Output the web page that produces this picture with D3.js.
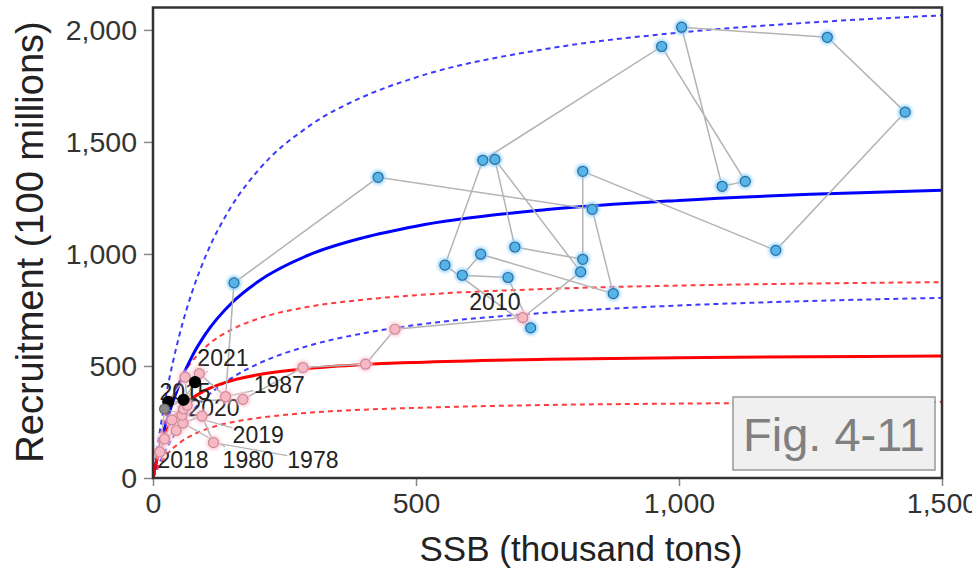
<!doctype html>
<html lang="en">
<head>
  <meta charset="utf-8">
  <title>SR plot</title>
  <style type="text/css">
    body { margin: 0; background: #fff; }
    #vis { font-family: "Liberation Sans", Arial, sans-serif; }
    .frame { fill: none; stroke: #333; stroke-width: 2.5px; }
    .tick line { stroke: #888; stroke-width: 1.5px; }
    .tick text { fill: #333; }
    .path { fill: none; stroke: #b4b4b4; stroke-width: 1.5px; }
    .leader { stroke: #b4b4b4; stroke-width: 1.2px; }
    .yr { fill: #222; font-size: 23px; }
  </style>
  <script src="https://cdn.jsdelivr.net/npm/d3@7"></script>
</head>
<body>
<div id="vis"></div>
<script type="text/javascript">
  // observed stock-recruit pairs, one per year
  var years = d3.range(1978, 2022);
  var ssb = [115, 93, 57, 44, 22, 36, 55, 58, 88, 138,
             154, 428, 835, 875, 623, 588, 675, 718, 555, 627,
             967, 1126, 1082, 1005, 1282, 1430, 1184, 817, 817, 688,
             650, 813,
             703, 460, 404, 285, 171, 29, 61, 65, 13, 22, 58, 80];
  var rec = [158, 276, 245, 212, 174, 259, 281, 308, 466, 363,
             871, 1342, 1199, 823, 999, 905, 895, 670, 950, 1418,
             1926, 1324, 1302, 2012, 1967, 1633, 1016, 1369, 976, 1031,
             1422, 920,
             716, 664, 508, 493, 351, 340, 450, 325, 116, 308, 349, 428];
  var group = ["low", "low", "low", "low", "low", "low", "low", "low", "low", "low",
               "high", "high", "high", "high", "high", "high", "high", "high", "high", "high",
               "high", "high", "high", "high", "high", "high", "high", "high", "high", "high",
               "high", "high",
               "low", "low", "low", "low", "low", "recent", "low", "low", "low", "grey", "recent", "recent"];

  // fitted curves
  var curveSSB = [0, 5, 10, 25, 50, 75, 100, 150, 200, 300, 400, 500, 750, 1000, 1250, 1500];
  var highMid = [0, 58, 111, 247, 419, 546, 643, 782, 877, 999, 1073, 1124, 1198, 1239, 1266, 1284];
  var highUp  = [0, 85, 165, 371, 636, 835, 990, 1216, 1373, 1576, 1702, 1788, 1916, 1988, 2033, 2065];
  var highLo  = [0, 29, 57, 129, 225, 299, 359, 447, 510, 593, 646, 683, 738, 770, 790, 804];
  var lowMid  = [0, 58, 106, 206, 301, 356, 392, 435, 461, 490, 506, 516, 530, 537, 541, 544];
  var lowUp   = [0, 76, 139, 283, 431, 523, 585, 663, 711, 766, 796, 816, 844, 859, 868, 874];
  var lowLo   = [0, 26, 48, 100, 156, 192, 217, 249, 268, 292, 305, 313, 326, 332, 336, 339];

  var labelYears = [2021, 2015, 1987, 2020, 2019, 2018, 1980, 1978, 2010];
  var labelSSB   = [133, 61, 240, 116, 200, 57, 181, 304, 650];
  var labelRec   = [535, 383, 415, 312, 192, 80, 80, 80, 785];

  var xTicks = [0, 500, 1000, 1500];
  var yTicks = [0, 500, 1000, 1500, 2000];

  var W = 972, H = 568;
  var x = d3.scaleLinear().domain([0, 1500]).range([153, 942]);
  var y = d3.scaleLinear().domain([0, 2100]).range([478, 7.5]);
  var fmt = d3.format(",");

  var svg = d3.select("#vis").append("svg")
    .attr("width", W).attr("height", H);

  var defs = svg.append("defs");
  defs.append("clipPath").attr("id", "clip")
    .append("rect").attr("x", 153).attr("y", 7.5).attr("width", 789).attr("height", 470.5);
  defs.append("filter").attr("id", "glow").attr("x", "-50%").attr("y", "-50%")
    .attr("width", "200%").attr("height", "200%")
    .append("feGaussianBlur").attr("stdDeviation", 1.6);

  /* axes */
  var xAxis = d3.axisBottom(x).tickValues(xTicks).tickFormat(fmt).tickSize(8).tickPadding(6);
  var yAxis = d3.axisLeft(y).tickValues(yTicks).tickFormat(fmt).tickSize(9).tickPadding(7);

  svg.append("g").attr("transform", "translate(0,478)").call(xAxis)
    .call(function(g) { g.select(".domain").remove(); })
    .selectAll("text").attr("font-size", 28.5).attr("dy", "0.75em");
  svg.append("g").attr("transform", "translate(153,0)").call(yAxis)
    .call(function(g) { g.select(".domain").remove(); })
    .selectAll("text").attr("font-size", 28.5);

  var plot = svg.append("g").attr("clip-path", "url(#clip)");

  /* fitted curves */
  var curves = [
    {v: highUp,  color: "#3b3bff", dash: "5,4", w: 2},
    {v: highLo,  color: "#3b3bff", dash: "5,4", w: 2},
    {v: lowUp,   color: "#ff3b3b", dash: "5,4", w: 2},
    {v: lowLo,   color: "#ff3b3b", dash: "5,4", w: 2},
    {v: highMid, color: "#0000ff", dash: null,  w: 3},
    {v: lowMid,  color: "#ff0000", dash: null,  w: 3}
  ];
  var line = d3.line().curve(d3.curveMonotoneX)
    .x(function(d, i) { return x(curveSSB[i]); })
    .y(function(d) { return y(d); });
  curves.forEach(function(c) {
    plot.append("path").attr("d", line(c.v))
      .attr("fill", "none").attr("stroke", c.color)
      .attr("stroke-width", c.w).attr("stroke-dasharray", c.dash);
  });

  /* time series path */
  var pts = years.map(function(yr, i) {
    return {year: yr, s: ssb[i], r: rec[i], g: group[i]};
  });
  plot.append("path").attr("class", "path")
    .attr("d", d3.line().x(function(d) { return x(d.s); }).y(function(d) { return y(d.r); })(pts));

  /* year labels with leader segments */
  var labG = svg.append("g");
  labelYears.forEach(function(yr, i) {
    var p = pts[years.indexOf(yr)];
    var t = labG.append("text").attr("class", "yr")
      .attr("x", x(labelSSB[i])).attr("y", y(labelRec[i]))
      .attr("text-anchor", "middle").attr("dominant-baseline", "central")
      .text(yr);
    var b = t.node().getBBox();
    var px = x(p.s), py = y(p.r);
    var cx = b.x + b.width / 2, cy = b.y + b.height / 2;
    var dx = px - cx, dy = py - cy;
    var k = Math.min(Math.abs((b.width / 2) / (dx || 1e-6)), Math.abs((b.height / 2) / (dy || 1e-6)));
    if (k < 1) {
      var ex = cx + dx * k, ey = cy + dy * k;
      if (Math.hypot(px - ex, py - ey) > 6) {
        labG.insert("line", ":first-child").attr("class", "leader")
          .attr("x1", ex).attr("y1", ey).attr("x2", px).attr("y2", py);
      }
    }
  });

  /* points */
  var fillOf = {high: "#56b4e9", low: "#f7b8c4", recent: "#000", grey: "#8a8a8a"};
  var strokeOf = {high: "#2c6d99", low: "#c98a98", recent: "#000", grey: "#666"};
  var glowOf = {high: "#8fd0ff", low: "#ffc8d4", recent: "none", grey: "none"};

  var ptG = svg.append("g");
  ptG.selectAll("circle.glow").data(pts.filter(function(d) { return glowOf[d.g] != "none"; }))
    .enter().append("circle").attr("class", "glow")
    .attr("cx", function(d) { return x(d.s); }).attr("cy", function(d) { return y(d.r); })
    .attr("r", 7.5).attr("fill", function(d) { return glowOf[d.g]; })
    .attr("opacity", 0.8).attr("filter", "url(#glow)");
  ptG.selectAll("circle.pt").data(pts)
    .enter().append("circle").attr("class", "pt")
    .attr("cx", function(d) { return x(d.s); }).attr("cy", function(d) { return y(d.r); })
    .attr("r", function(d) { return d.g == "recent" ? 5.5 : 5; })
    .attr("fill", function(d) { return fillOf[d.g]; })
    .attr("stroke", function(d) { return strokeOf[d.g]; })
    .attr("stroke-width", 1.2);

  /* frame */
  svg.append("rect").attr("class", "frame")
    .attr("x", 153).attr("y", 7.5).attr("width", 789).attr("height", 470.5);

  /* axis titles */
  svg.append("text").attr("x", 581).attr("y", 561)
    .attr("text-anchor", "middle").attr("font-size", 35).attr("fill", "#222")
    .text("SSB (thousand tons)");
  svg.append("text").attr("transform", "translate(43,242) rotate(-90)")
    .attr("text-anchor", "middle").attr("font-size", 38).attr("fill", "#222")
    .text("Recruitment (100 millions)");

  /* figure tag */
  svg.append("rect").attr("x", 733).attr("y", 397).attr("width", 202).attr("height", 73)
    .attr("fill", "#f0f0f0").attr("stroke", "#999").attr("stroke-width", 1.5);
  svg.append("text").attr("x", 834).attr("y", 451)
    .attr("text-anchor", "middle").attr("font-size", 47).attr("fill", "#808080")
    .text("Fig. 4-11");
</script>
</body>
</html>
